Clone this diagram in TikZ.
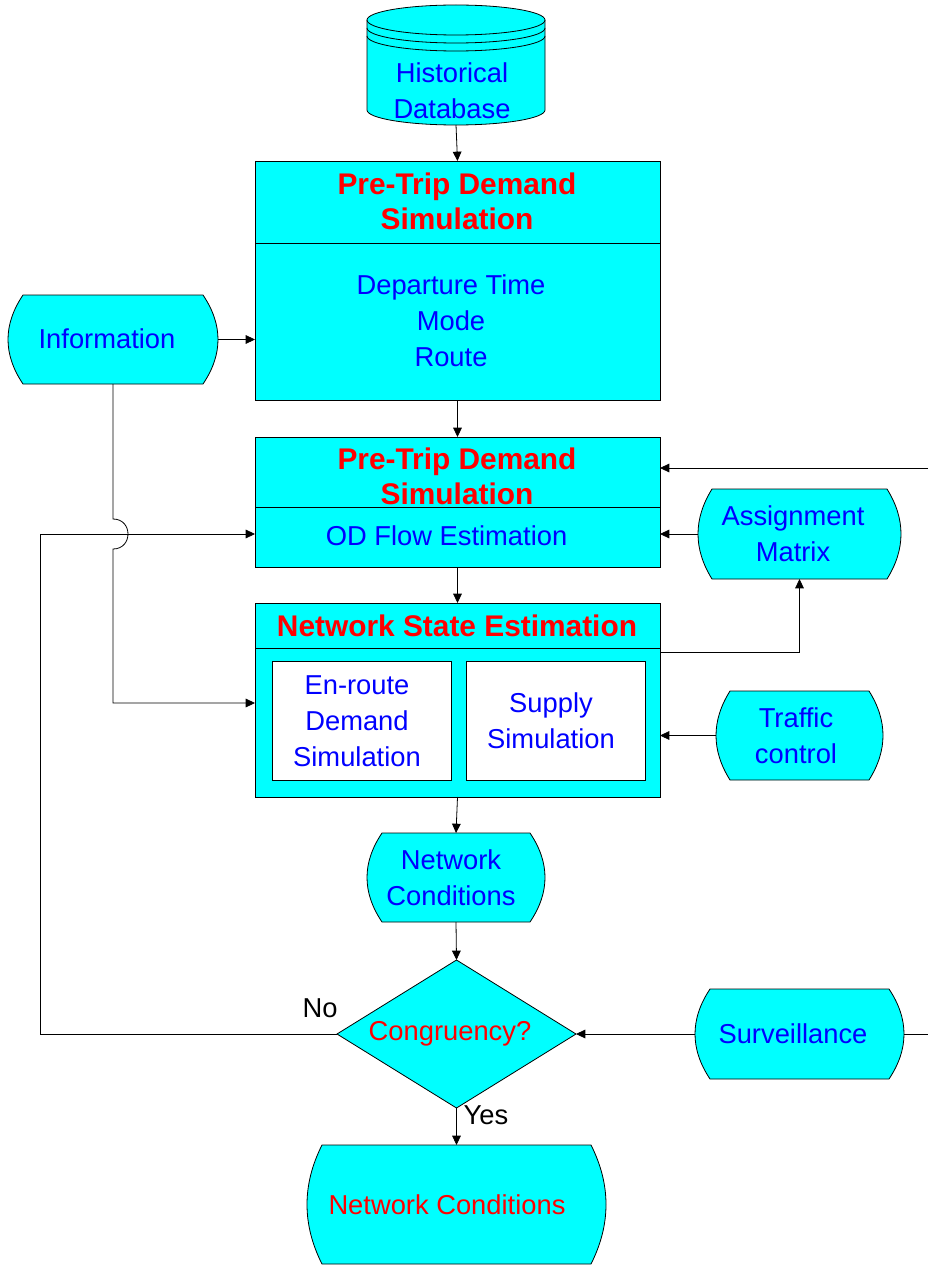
\documentclass[tikz,border=0pt]{standalone}
\usepackage{fontspec}
\setmainfont{Liberation Sans}
\usetikzlibrary{arrows.meta,shapes.geometric,backgrounds,calc}
\definecolor{cy}{RGB}{0,255,255}
\definecolor{tb}{RGB}{0,0,255}
\definecolor{tr}{RGB}{255,0,0}
\newcommand\termshape[2]{%
  \filldraw[fill=cy,draw=black]
    ([xshift=#2*0.75pt]#1.north west) -- ([xshift=-#2*0.75pt]#1.north east)
    .. controls ([xshift=#2*0.25pt]$(#1.north east)!1/3!(#1.south east)$)
       and ([xshift=#2*0.25pt]$(#1.north east)!2/3!(#1.south east)$)
    .. ([xshift=-#2*0.75pt]#1.south east)
    -- ([xshift=#2*0.75pt]#1.south west)
    .. controls ([xshift=-#2*0.25pt]$(#1.north west)!2/3!(#1.south west)$)
       and ([xshift=-#2*0.25pt]$(#1.north west)!1/3!(#1.south west)$)
    .. cycle;}
\begin{document}
\begin{tikzpicture}[x=0.75pt,y=-0.75pt,line width=0.6pt,
  box/.style={draw,fill=cy,rectangle,inner sep=0pt,outer sep=0pt},
  inbox/.style={draw,fill=white,rectangle,inner sep=0pt,outer sep=0pt},
  term/.style={rectangle,inner sep=0pt,outer sep=0pt},
  btxt/.style={text=tb,font=\fontsize{20.5}{27}\selectfont,align=center,inner sep=0pt},
  ttxt/.style={text=tr,font=\fontsize{22.4}{26}\selectfont\bfseries,align=center,inner sep=0pt},
  rtxt/.style={text=tr,font=\fontsize{20.5}{27}\selectfont,align=center,inner sep=0pt},
  ktxt/.style={text=black,font=\fontsize{20.5}{27}\selectfont,inner sep=0pt},
  arr/.style={-{Triangle[length=7pt,width=6.5pt]}}]
\useasboundingbox (0,0) rectangle (928,1266);

% ---------- database ----------
\node[term,minimum width=178*0.75pt,minimum height=120*0.75pt] (db) at (456,65) {};
\fill[cy] (367,20) -- (367,110) arc[start angle=180,end angle=360,x radius=89*0.75pt,y radius=15*0.75pt]
  -- (545,20) arc[start angle=0,end angle=180,x radius=89*0.75pt,y radius=15*0.75pt] -- cycle;
\draw (367,20) -- (367,110) arc[start angle=180,end angle=360,x radius=89*0.75pt,y radius=15*0.75pt] -- (545,20);
\draw (456,20) ellipse[x radius=89*0.75pt,y radius=15*0.75pt];
\draw (367,28) arc[start angle=180,end angle=360,x radius=89*0.75pt,y radius=15*0.75pt];
\draw (367,36) arc[start angle=180,end angle=360,x radius=89*0.75pt,y radius=15*0.75pt];
\node[btxt] (dbtxt) at (452,90.5) {Historical\\Database};

% ---------- box 1 ----------
\node[box,minimum width=405*0.75pt,minimum height=239*0.75pt] (box1) at (457.5,280.5) {};
\draw (255,243) -- (660,243);
\node[ttxt] (b1title) at (457,201.5) {Pre-Trip Demand\\Simulation};
\node[btxt] (b1body) at (451,321) {Departure Time\\Mode\\Route};

% ---------- box 2 ----------
\node[box,minimum width=405*0.75pt,minimum height=130*0.75pt] (box2) at (457.5,502) {};
\draw (255,507) -- (660,507);
\node[ttxt] (b2title) at (457,476.5) {Pre-Trip Demand\\Simulation};
\node[btxt] (b2body) at (446.5,536) {OD Flow Estimation};

% ---------- box 3 ----------
\node[box,minimum width=405*0.75pt,minimum height=194*0.75pt] (box3) at (457.5,700) {};
\draw (255,648) -- (660,648);
\node[ttxt] (b3title) at (457,626) {Network State Estimation};
\node[inbox,minimum width=179*0.75pt,minimum height=119*0.75pt] (enroute) at (361.5,720.5) {};
\node[inbox,minimum width=179*0.75pt,minimum height=119*0.75pt] (supply) at (555.5,720.5) {};
\node[btxt] (enroutetxt) at (357,721) {En-route\\Demand\\Simulation};
\node[btxt] (supplytxt) at (551,721) {Supply\\Simulation};

% ---------- terminal nodes ----------
\node[term,minimum width=210*0.75pt,minimum height=89*0.75pt] (info) at (113,339.5) {};
\node[term,minimum width=203*0.75pt,minimum height=90*0.75pt] (assign) at (799.5,534) {};
\node[term,minimum width=167*0.75pt,minimum height=89*0.75pt] (traffic) at (799.5,735.5) {};
\node[term,minimum width=178*0.75pt,minimum height=89*0.75pt] (netc) at (456,877.5) {};
\node[term,minimum width=209*0.75pt,minimum height=90*0.75pt] (surv) at (799.5,1034) {};
\node[term,minimum width=299*0.75pt,minimum height=119*0.75pt] (result) at (456.5,1204.5) {};
\termshape{info}{15}
\termshape{assign}{14}
\termshape{traffic}{14}
\termshape{netc}{15}
\termshape{surv}{15}
\termshape{result}{15}
\node[btxt] (infotxt) at (107,339) {Information};
\node[btxt] (assigntxt) at (793,534) {Assignment\\Matrix};
\node[btxt] (traffictxt) at (796,735.5) {Traffic\\control};
\node[btxt] (netctxt) at (451,877.5) {Network\\Conditions};
\node[btxt] (survtxt) at (793,1034) {Surveillance};
\node[rtxt] (resulttxt) at (447,1205) {Network Conditions};

% ---------- decision ----------
\node[diamond,draw,fill=cy,inner sep=0pt,outer sep=0pt,minimum width=239*0.75pt,minimum height=148*0.75pt] (dia) at (456.5,1034) {};
\node[rtxt] (diatxt) at (450,1034) {Congruency?};
\node[ktxt] (nolbl) at (320,1008) {No};
\node[ktxt] (yeslbl) at (486,1115) {Yes};

% ---------- connectors ----------
\coordinate (rightin) at (928,468);
\coordinate (rightout) at (928,1034);
\coordinate (b3div) at (660,652);
\coordinate (nocorner) at (40,534);
\coordinate (bumptop) at (113,519);
\coordinate (bumpbot) at (113,549);
\coordinate (infocorner) at (113,703);

\draw[arr] (db.south) -- (box1.north);
\draw[arr] (info.east) -- (info.east -| box1.west);
\draw[arr] (box1.south) -- (box2.north);
\draw[arr] (rightin) -- (rightin -| box2.east);
\draw[arr] (assign.west) -- (assign.west -| box2.east);
\draw[arr] (box2.south) -- (box3.north);
\draw[arr] (b3div) -| (assign.south);
\draw[arr] (traffic.west) -- (traffic.west -| box3.east);
\draw[arr] (info.south) -- (bumptop) .. controls ([xshift=20*0.75pt]bumptop) and ([xshift=20*0.75pt]bumpbot) .. (bumpbot) -- (infocorner) -- (infocorner -| box3.west);
\draw[arr] (dia.west) -| (nocorner) -- (nocorner -| box2.west);
\draw[arr] (box3.south) -- (netc.north);
\draw[arr] (netc.south) -- (dia.north);
\draw[arr] (surv.west) -- (dia.east);
\draw (surv.east) -- (rightout);
\draw[arr] (dia.south) -- (result.north);
\end{tikzpicture}
\end{document}
